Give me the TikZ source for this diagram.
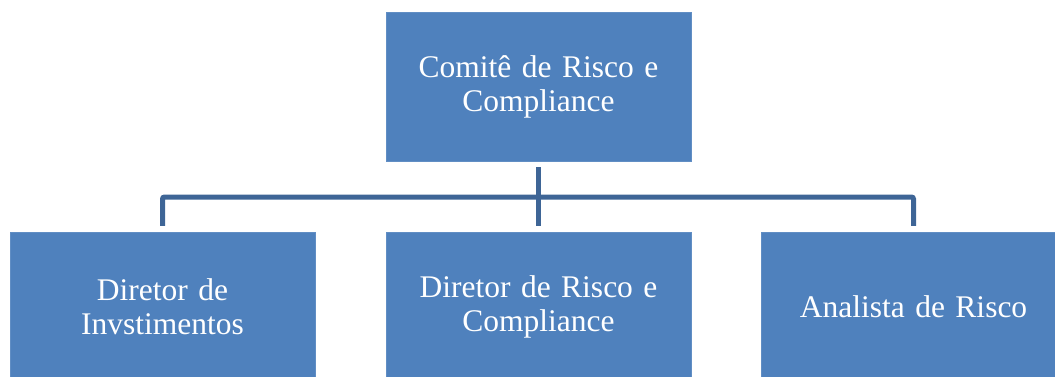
\documentclass[tikz,border=0pt]{standalone}
\usepackage{fontspec}
\setmainfont{Liberation Serif}
\definecolor{caixa}{RGB}{79,129,189}
\definecolor{linha}{RGB}{62,101,150}

\begin{document}
\begin{tikzpicture}[x=1pt,y=-1pt,
every node/.style={rectangle,fill=caixa,draw=caixa!90!white,thin,
minimum width=305pt,text width=290pt,align=center,text=white,
font=\fontsize{31.5}{34}\selectfont}]

\useasboundingbox (0,0) rectangle (1055,376);
\clip (0,0) rectangle (1055,376);

\node[minimum height=149pt] (comite) at (538.5, 86.5) {Comitê de Risco e\\ Compliance};
\node[minimum height=149pt] (dirinv) at (162.5, 306.5) {Diretor de\\ Invstimentos};
\node[minimum height=149pt] (dirrisco) at (538.5, 306.5) {Diretor de Risco e\\ Compliance};
\node[minimum height=149pt] (analista) at (913.5, 306.5) {Analista de Risco};
\coordinate (juncao) at (538.5, 197);

\path[draw=linha,line width=5pt]
([yshift=-6pt]comite.south) edge ([yshift=6pt]dirrisco.north);
\draw[linha,line width=5pt,rounded corners=2pt]
([yshift=6pt]dirinv.north) |- (juncao) -| ([yshift=6pt]analista.north);
\end{tikzpicture}
\end{document}
